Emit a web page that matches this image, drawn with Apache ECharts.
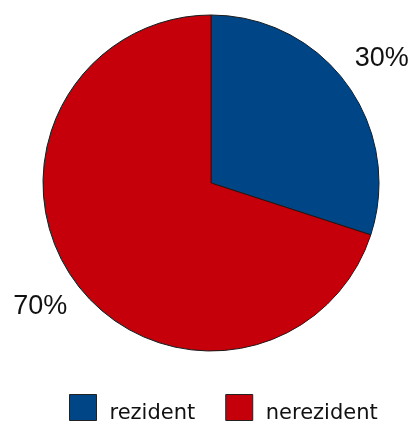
<!DOCTYPE html>
<html>
<head>
<meta charset="utf-8">
<script src="https://cdn.jsdelivr.net/npm/echarts@6/dist/echarts.min.js"></script>
<style>
  html, body { margin: 0; padding: 0; background: #fff; }
  #chart { width: 414px; height: 421px; }
</style>
</head>
<body>
<div id="chart"></div>
<script>
// Share of residents vs. non-residents
const categories = ['rezident', 'nerezident'];
const shares = [30, 70];
const colors = ['#004586', '#C5000B'];

const CENTER = [211, 183];
const RADIUS = 168;
const LABEL_RADIUS = 211;

// Mid-angle of each slice (clockwise from 12 o'clock), used to place the percentage labels
const total = shares.reduce((a, b) => a + b, 0);
const midAngles = [];
let acc = 0;
shares.forEach(v => {
  midAngles.push((acc + v / 2) / total * Math.PI * 2);
  acc += v;
});

const chart = echarts.init(document.getElementById('chart'), null, { renderer: 'canvas' });

chart.setOption({
  animation: false,
  legend: {
    data: categories,
    left: 64,
    top: 389,
    itemWidth: 27,
    itemHeight: 26,
    itemGap: 30,
    icon: 'rect',
    itemStyle: { borderColor: '#222', borderWidth: 1 },
    formatter: name => '{t|' + name + '}',
    textStyle: {
      fontFamily: 'DejaVu Sans',
      fontSize: 21,
      color: '#111',
      rich: {
        t: {
          fontFamily: 'DejaVu Sans',
          fontSize: 21,
          color: '#111',
          padding: [12, 0, 0, 8]
        }
      }
    }
  },
  series: [{
    type: 'pie',
    center: CENTER,
    radius: [0, RADIUS],
    startAngle: 90,
    clockwise: true,
    data: categories.map((name, i) => ({
      name,
      value: shares[i],
      itemStyle: { color: colors[i] }
    })),
    itemStyle: { borderColor: '#1a1a1a', borderWidth: 1 },
    label: {
      show: true,
      position: 'outside',
      overflow: 'none',
      formatter: p => p.value + '%',
      fontFamily: 'Liberation Sans',
      fontSize: 27,
      color: '#111'
    },
    labelLine: { show: false },
    labelLayout: params => {
      const a = midAngles[params.dataIndex];
      return {
        x: CENTER[0] + LABEL_RADIUS * Math.sin(a),
        y: CENTER[1] - LABEL_RADIUS * Math.cos(a),
        align: 'center',
        verticalAlign: 'middle'
      };
    },
    emphasis: { disabled: true }
  }]
});
</script>
</body>
</html>
